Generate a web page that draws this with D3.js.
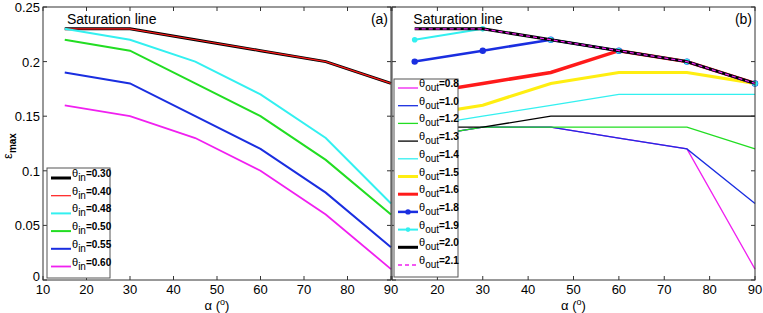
<!DOCTYPE html>
<html>
<head>
<meta charset="utf-8">
<script src="https://cdn.jsdelivr.net/npm/d3@7"></script>
<style>
  body { margin: 0; background: #fff; }
  svg { font-family: "Liberation Sans", Arial, sans-serif; }
</style>
</head>
<body>
<script>
// angles (deg)
const alpha = [15, 30, 45, 60, 75, 90];
const xTicks = [10, 20, 30, 40, 50, 60, 70, 80, 90];
const yTicks = [0, 0.05, 0.1, 0.15, 0.2, 0.25];

// panel (a): theta_in
const thetaIn = ['0.30', '0.40', '0.48', '0.50', '0.55', '0.60'];
const epsIn = [
    [0.23, 0.23, 0.22, 0.21, 0.20, 0.18],
    [0.23, 0.23, 0.22, 0.21, 0.20, 0.18],
    [0.23, 0.22, 0.20, 0.17, 0.13, 0.07],
    [0.22, 0.21, 0.18, 0.15, 0.11, 0.06],
    [0.19, 0.18, 0.15, 0.12, 0.08, 0.03],
    [0.16, 0.15, 0.13, 0.10, 0.06, 0.01]
];

// panel (b): theta_out
const thetaOut = ['0.8', '1.0', '1.2', '1.3', '1.4', '1.5', '1.6', '1.8', '1.9', '2.0', '2.1'];
const epsOut = [
    [0.13, 0.14, 0.14, 0.13, 0.12, 0.01],
    [0.13, 0.14, 0.14, 0.13, 0.12, 0.07],
    [0.13, 0.14, 0.14, 0.14, 0.14, 0.12],
    [0.14, 0.14, 0.15, 0.15, 0.15, 0.15],
    [0.14, 0.15, 0.16, 0.17, 0.17, 0.17],
    [0.15, 0.16, 0.18, 0.19, 0.19, 0.18],
    [0.17, 0.18, 0.19, 0.21, 0.20, 0.18],
    [0.20, 0.21, 0.22, 0.21, 0.20, 0.18],
    [0.22, 0.23, 0.22, 0.21, 0.20, 0.18],
    [0.23, 0.23, 0.22, 0.21, 0.20, 0.18],
    [0.23, 0.23, 0.22, 0.21, 0.20, 0.18]
];

// styles
const styleIn = [
    {c: '#000000', w: 3},
    {c: '#ff1a1a', w: 1.2},
    {c: '#33f0f0', w: 2},
    {c: '#22dd22', w: 2},
    {c: '#1a2ee0', w: 2},
    {c: '#f020f0', w: 1.8}
];
const styleOut = [
    {c: '#f020f0', w: 1.3},
    {c: '#1a2ee0', w: 1.3},
    {c: '#22dd22', w: 1.3},
    {c: '#000000', w: 1.3},
    {c: '#33f0f0', w: 1.3},
    {c: '#ffee11', w: 3.2},
    {c: '#ff1a1a', w: 3.5},
    {c: '#1a2ee0', w: 2.5, dot: 3.2},
    {c: '#33f0f0', w: 2, dot: 2.8},
    {c: '#000000', w: 3},
    {c: '#f020f0', w: 1.3, dash: '4,3'}
];

const W = 763, H = 313;
const svg = d3.select('body').append('svg')
    .attr('width', W).attr('height', H);

const y = d3.scaleLinear().domain([0, 0.25]).range([280, 7]);

function drawPanel(opts) {
    const x = d3.scaleLinear().domain([10, 90]).range([opts.x0, opts.x1]);
    const g = svg.append('g');

    const line = d3.line().x((d, i) => x(alpha[i])).y(d => y(d));

    opts.series.forEach((s, k) => {
        const st = opts.styles[k];
        g.append('path')
            .attr('d', line(s))
            .attr('fill', 'none')
            .attr('stroke', st.c)
            .attr('stroke-width', st.w)
            .attr('stroke-dasharray', st.dash || null);
        if (st.dot) {
            g.selectAll(null).data(s).enter().append('circle')
                .attr('cx', (d, i) => x(alpha[i]))
                .attr('cy', d => y(d))
                .attr('r', st.dot)
                .attr('fill', st.c);
        }
    });

    // frame + ticks
    const ax = svg.append('g').attr('stroke', '#333').attr('stroke-width', 1);
    ax.append('rect')
        .attr('x', opts.x0).attr('y', y(0.25))
        .attr('width', opts.x1 - opts.x0).attr('height', y(0) - y(0.25))
        .attr('fill', 'none');
    xTicks.forEach(t => {
        ax.append('line').attr('x1', x(t)).attr('x2', x(t)).attr('y1', y(0)).attr('y2', y(0) - 4);
        ax.append('line').attr('x1', x(t)).attr('x2', x(t)).attr('y1', y(0.25)).attr('y2', y(0.25) + 4);
    });
    yTicks.forEach(t => {
        ax.append('line').attr('x1', opts.x0).attr('x2', opts.x0 + 4).attr('y1', y(t)).attr('y2', y(t));
        ax.append('line').attr('x1', opts.x1).attr('x2', opts.x1 - 4).attr('y1', y(t)).attr('y2', y(t));
    });

    // x tick labels
    svg.append('g').selectAll('text')
        .data(xTicks.filter(t => opts.firstTick || t > 10))
        .enter().append('text')
        .attr('x', d => x(d)).attr('y', 294)
        .attr('text-anchor', 'middle')
        .attr('font-size', 13)
        .text(d => d);

    if (opts.yLabels) {
        svg.append('g').selectAll('text')
            .data(yTicks).enter().append('text')
            .attr('x', opts.x0 - 3).attr('y', d => d === 0 ? y(d) + 1 : y(d) + 5)
            .attr('text-anchor', 'end')
            .attr('font-size', 13)
            .text(d => d === 0 ? '0' : d3.format('.3~g')(d));
    }

    // x label
    const xl = svg.append('text')
        .attr('x', (opts.x0 + opts.x1) / 2).attr('y', 310)
        .attr('text-anchor', 'middle')
        .attr('font-size', 13);
    xl.append('tspan').text('α (');
    xl.append('tspan').attr('dy', -5).attr('font-size', 9).text('o');
    xl.append('tspan').attr('dy', 5).text(')');

    svg.append('text')
        .attr('x', x(opts.satX)).attr('y', 24)
        .attr('font-size', 14)
        .text('Saturation line');
    svg.append('text')
        .attr('x', opts.x1 - 3).attr('y', 24)
        .attr('text-anchor', 'end')
        .attr('font-size', 14)
        .text(opts.tag);

    // legend
    const lg = svg.append('g');
    lg.append('rect')
        .attr('x', opts.lx).attr('y', opts.ly)
        .attr('width', opts.lw).attr('height', opts.lh)
        .attr('fill', '#fff').attr('stroke', '#555');
    opts.names.forEach((name, k) => {
        const st = opts.styles[k];
        const cy = opts.ly + opts.lpad + k * opts.lstep;
        lg.append('line')
            .attr('x1', opts.lx + 4).attr('x2', opts.lx + 24)
            .attr('y1', cy).attr('y2', cy)
            .attr('stroke', st.c)
            .attr('stroke-width', Math.min(st.w, 3))
            .attr('stroke-dasharray', st.dash || null);
        if (st.dot) {
            lg.append('circle').attr('cx', opts.lx + 14).attr('cy', cy)
                .attr('r', st.dot - 0.5).attr('fill', st.c);
        }
        const t = lg.append('text')
            .attr('x', opts.lx + 25).attr('y', cy - 1)
            .attr('font-size', 11);
        t.append('tspan').text('θ');
        t.append('tspan').attr('dy', 4).attr('font-size', 10).text(opts.sub);
        t.append('tspan').attr('dy', -4).attr('font-size', 10)
            .attr('font-weight', 'bold').text('=' + name);
    });
}

drawPanel({
    x0: 43, x1: 391, series: epsIn, styles: styleIn, names: thetaIn, sub: 'in',
    yLabels: true, firstTick: true, tag: '(a)', satX: 15.5,
    lx: 47, ly: 168, lw: 63, lh: 110, lpad: 10, lstep: 17.7
});
drawPanel({
    x0: 392, x1: 755, series: epsOut, styles: styleOut, names: thetaOut, sub: 'out',
    yLabels: false, firstTick: false, tag: '(b)', satX: 14.7,
    lx: 394, ly: 79, lw: 64, lh: 198, lpad: 9, lstep: 17.7
});

// y label
const yl = svg.append('text')
    .attr('transform', 'translate(12,146) rotate(-90)')
    .attr('text-anchor', 'middle')
    .attr('font-size', 13);
yl.append('tspan').text('ε');
yl.append('tspan').attr('dy', 4).attr('font-size', 10).attr('font-weight', 'bold').text('max');
</script>
</body>
</html>
